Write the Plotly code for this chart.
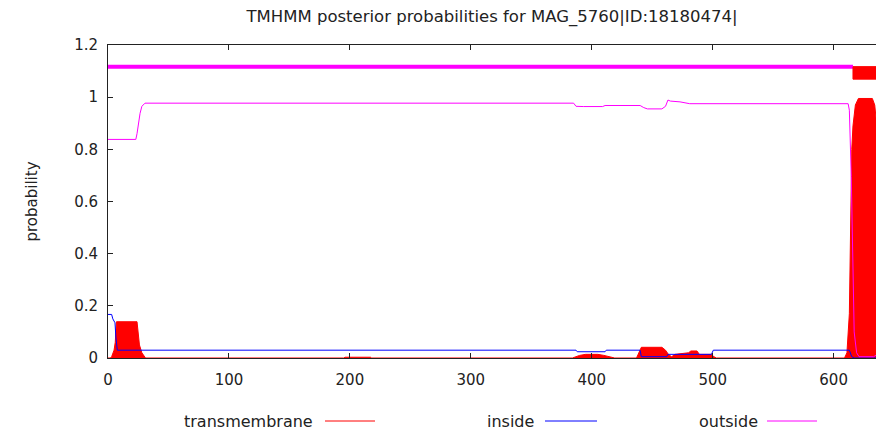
import plotly.graph_objects as go

title_text = "TMHMM posterior probabilities for MAG_5760|ID:18180474|"
series_names = ["transmembrane", "inside", "outside"]
series_colors = ["#ff0000", "#0000ff", "#ff00ff"]

# transmembrane posterior probability
tm_x = [0, 2, 3, 5, 6, 7, 24, 25, 26, 28, 30, 31,
        195, 196, 217, 218,
        384, 386, 390, 395, 405, 410, 415, 419,
        437, 438, 441, 458, 461, 463.5, 466, 469, 475, 480, 482, 487, 489, 499, 501, 503,
        609, 611, 613, 614, 615, 616, 618, 620.5, 632, 634, 635.5, 637, 638.5, 639.5, 640]
tm_y = [0, 0, 0.005, 0.03, 0.06, 0.139, 0.139, 0.09, 0.05, 0.02, 0.005, 0,
        0, 0.003, 0.003, 0,
        0, 0.003, 0.01, 0.014, 0.014, 0.01, 0.005, 0,
        0, 0.01, 0.041, 0.041, 0.03, 0.013, 0.005, 0.014, 0.016, 0.02, 0.027, 0.027, 0.014, 0.014, 0.005, 0,
        0, 0.02, 0.17, 0.45, 0.8, 0.89, 0.97, 0.995, 0.995, 0.97, 0.9, 0.6, 0.2, 0.05, 0.0]

# inside posterior probability
inside_x = [0, 3, 4, 5.8, 6.5, 7.7, 387, 388, 411, 412, 440, 441, 462, 463, 499, 500.5,
            613, 614, 615, 617, 635, 636.5, 637.5, 638.5, 639.2, 640]
inside_y = [0.167, 0.167, 0.15, 0.135, 0.08, 0.03, 0.03, 0.024, 0.024, 0.03, 0.03, 0.005, 0.005, 0.014, 0.014, 0.03,
            0.03, 0.02, 0.005, 0.0, 0.0, 0.02, 0.2, 0.6, 0.9, 0.97]

# outside posterior probability
outside_x = [0, 23, 24, 26.5, 28, 30.6, 385, 387, 393, 409, 411, 440, 443, 446, 458, 461, 463, 465, 473, 480, 481,
             612, 613, 614.6, 616, 617, 619, 621, 633, 635, 637, 638.5, 640]
outside_y = [0.838, 0.838, 0.86, 0.938, 0.965, 0.977, 0.977, 0.965, 0.964, 0.964, 0.968, 0.968, 0.96, 0.955, 0.955, 0.965, 0.989, 0.985, 0.982, 0.978, 0.975,
             0.975, 0.95, 0.695, 0.3, 0.1, 0.02, 0.005, 0.005, 0.01, 0.02, 0.035, 0.04]

# predicted topology segments
topo_kind = ["outside", "TMhelix", "inside"]
topo_start = [1, 617, 640]
topo_end = [616, 639.5, 640]

xtick_vals = [0, 100, 200, 300, 400, 500, 600]
ytick_vals = [0, 0.2, 0.4, 0.6, 0.8, 1.0, 1.2]
ytick_text = ["0", "0.2", "0.4", "0.6", "0.8", "1", "1.2"]

FONT = "DejaVu Sans"
TXT = "#222"
fig = go.Figure()

fig.add_trace(go.Scatter(x=tm_x, y=tm_y, mode="lines", fill="tozeroy",
                         line=dict(color=series_colors[0], width=1),
                         fillcolor=series_colors[0], name=series_names[0]))
fig.add_trace(go.Scatter(x=inside_x, y=inside_y, mode="lines",
                         line=dict(color=series_colors[1], width=1), name=series_names[1]))
fig.add_trace(go.Scatter(x=outside_x, y=outside_y, mode="lines",
                         line=dict(color=series_colors[2], width=1), name=series_names[2]))

# topology bar on top
for kind, s, e in zip(topo_kind, topo_start, topo_end):
    if kind == "outside":
        fig.add_trace(go.Scatter(x=[s - 1, e], y=[1.117, 1.117], mode="lines",
                                 line=dict(color=series_colors[2], width=4), showlegend=False))
    elif kind == "inside":
        fig.add_trace(go.Scatter(x=[s - 0.5, e], y=[1.07, 1.07], mode="lines",
                                 line=dict(color=series_colors[1], width=3), showlegend=False))
    else:
        fig.add_trace(go.Scatter(x=[s - 1, e, e, s - 1, s - 1], y=[1.069, 1.069, 1.117, 1.117, 1.069],
                                 mode="lines", fill="toself", fillcolor=series_colors[0],
                                 line=dict(color=series_colors[0], width=1), showlegend=False))

# page body has an 8px margin: lay out the figure 8px up/left of window coords
OFF = 8
L, W = 108, 774
B, H = 358, 313
leg_text_px = [182, 485, 697]
leg_line_px = [(325, 375), (545, 597), (767, 817)]
leg_y = (B - 421) / H
for name, col, tx, (l0, l1) in zip(series_names, series_colors, leg_text_px, leg_line_px):
    fig.add_annotation(x=(tx - L) / W, y=leg_y, xref="paper", yref="paper", text=name,
                       showarrow=False, xanchor="left", yanchor="middle",
                       font=dict(family=FONT, size=16, color=TXT))
    fig.add_shape(type="line", xref="paper", yref="paper", x0=(l0 - L) / W, x1=(l1 - L) / W,
                  y0=leg_y, y1=leg_y, line=dict(color=col, width=1))

fig.add_annotation(x=(31 - L) / W, y=0.5, xref="paper", yref="paper", text="probability",
                   textangle=-90, showarrow=False, xanchor="center", yanchor="middle",
                   font=dict(family=FONT, size=15, color=TXT))

FW, FH = 884 - OFF, 433 - OFF
fig.update_layout(
    width=FW, height=FH,
    margin=dict(l=L - OFF, r=FW - (L - OFF) - W, t=45 - OFF, b=FH - (45 - OFF) - H),
    paper_bgcolor="white", plot_bgcolor="white",
    showlegend=False,
    title=dict(text=title_text, x=(492 - OFF) / FW, xref="container", xanchor="center",
               y=1 - (16 - OFF) / FH, yref="container", yanchor="middle",
               font=dict(family=FONT, size=16.5, color=TXT)),
    font=dict(family=FONT, size=15, color=TXT),
)
fig.update_xaxes(range=[0, 640], tickvals=xtick_vals, ticks="inside", ticklen=5,
                 tickcolor=TXT, showline=True, linecolor=TXT, linewidth=1,
                 mirror="ticks", showgrid=False, zeroline=False, ticklabelstandoff=8,
                 tickfont=dict(family=FONT, size=15, color=TXT))
fig.update_yaxes(range=[0, 1.2], tickvals=ytick_vals, ticktext=ytick_text, ticks="inside", ticklen=5,
                 tickcolor=TXT, showline=True, linecolor=TXT, linewidth=1,
                 mirror="ticks", showgrid=False, zeroline=False, ticklabelstandoff=6,
                 tickfont=dict(family=FONT, size=15, color=TXT))

fig.write_html("out.html")
